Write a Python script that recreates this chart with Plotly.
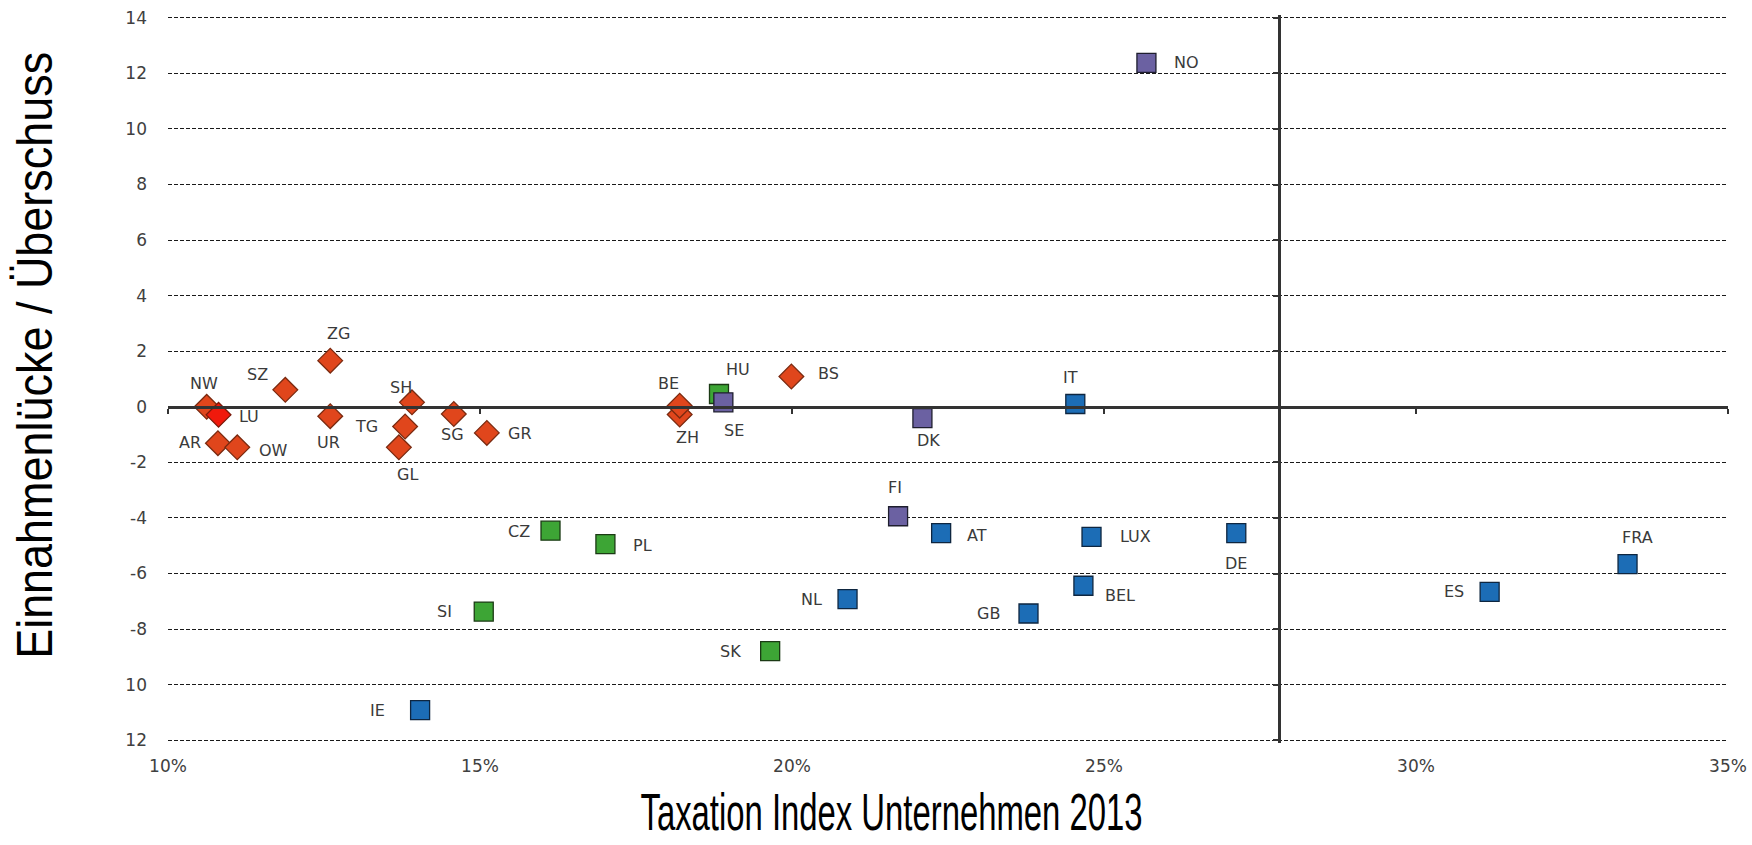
import plotly.graph_objects as go

# ---------------- data ----------------
# Swiss cantons (diamonds)
canton_names = ["NW", "SZ", "ZG", "UR", "AR", "OW", "SH", "TG", "GL", "SG", "GR", "ZH", "BE", "BS"]
canton_x = [10.62, 11.88, 12.60, 12.60, 10.80, 11.11, 13.91, 13.80, 13.70, 14.58, 15.11, 18.20, 18.20, 19.99]
canton_y = [0.00, 0.61, 1.66, -0.34, -1.31, -1.46, 0.16, -0.71, -1.46, -0.26, -0.94, -0.28, 0.04, 1.09]

# Highlighted canton
lu_names = ["LU"]
lu_x = [10.81]
lu_y = [-0.29]

# Eastern Europe (green squares)
east_names = ["HU", "CZ", "PL", "SI", "SK"]
east_x = [18.83, 16.13, 17.01, 15.06, 19.65]
east_y = [0.46, -4.46, -4.94, -7.37, -8.79]

# Nordic countries (purple squares)
nordic_names = ["NO", "SE", "DK", "FI"]
nordic_x = [25.68, 18.90, 22.09, 21.70]
nordic_y = [12.38, 0.16, -0.41, -3.94]

# Western Europe (blue squares)
west_names = ["IT", "AT", "LUX", "DE", "FRA", "ES", "BEL", "GB", "NL", "IE"]
west_x = [24.54, 22.39, 24.80, 27.12, 33.39, 31.18, 24.67, 23.79, 20.89, 14.04]
west_y = [0.10, -4.55, -4.68, -4.55, -5.66, -6.66, -6.44, -7.44, -6.92, -10.92]

# reference line (vertical) on the taxation index
ref_line_x = 27.8

x_tickvals = [10, 15, 20, 25, 30, 35]
x_ticktext = ["10%", "15%", "20%", "25%", "30%", "35%"]
y_tickvals = [-12, -10, -8, -6, -4, -2, 0, 2, 4, 6, 8, 10, 12, 14]
y_ticktext = ["12", "10", "-8", "-6", "-4", "-2", "0", "2", "4", "6", "8", "10", "12", "14"]

x_range = [10, 35]
y_range = [-12.1, 14.1]

x_title = "Taxation Index Unternehmen 2013"
y_title = "Einnahmenlücke / Überschuss"

# ---------------- label placement (pixel offsets: dx right, dy down) ----------------
label_offsets = {
    "NW": (-3, -23), "LU": (30, 2), "SZ": (-28, -15), "ZG": (8, -27), "UR": (-2, 26),
    "AR": (-28, -1), "OW": (36, 3), "SH": (-11, -15), "TG": (-39, 0), "GL": (9, 27),
    "SG": (-1, 20), "GR": (33, 1), "BE": (-11, -22), "ZH": (8, 23), "BS": (37, -3),
    "HU": (19, -25), "SE": (11, 28), "DK": (6, 22), "NO": (40, 0), "IT": (-5, -27),
    "FI": (-3, -29), "AT": (36, 2), "LUX": (44, 0), "DE": (0, 30), "FRA": (10, -27),
    "ES": (-36, 0), "BEL": (37, 10), "GB": (-40, 0), "NL": (-36, 0), "CZ": (-32, 1),
    "PL": (37, 1), "SI": (-39, 0), "SK": (-40, 0), "IE": (-43, 0),
}

# figure fills the whole page (body margin removed in post_script)
W, H = 1752, 845
PX_PER_UNIT = 27.77
PLOT_L, PLOT_R = 168, 1728                              # x = 10% / 35%
PLOT_T = round(18 - (y_range[1] - 14) * PX_PER_UNIT)    # so that 14 sits at y = 18
PLOT_B = round(740 + (-12 - y_range[0]) * PX_PER_UNIT)  # so that -12 sits at y = 740
ML, MT, MR, MB = PLOT_L, PLOT_T, W - PLOT_R, H - PLOT_B
plot_w = PLOT_R - PLOT_L
plot_h = PLOT_B - PLOT_T

fig = go.Figure()

def add_group(names, xs, ys, symbol, fill, border, size):
    fig.add_trace(go.Scatter(
        x=xs, y=ys, mode="markers", text=names,
        marker=dict(symbol=symbol, size=size, color=fill,
                    line=dict(color=border, width=1.3)),
        showlegend=False, hoverinfo="text+x+y", cliponaxis=False,
    ))

add_group(canton_names, canton_x, canton_y, "diamond", "#E0461C", "#7A2A10", 19)
add_group(lu_names, lu_x, lu_y, "diamond", "#F0190C", "#7A1A0A", 19)
add_group(east_names, east_x, east_y, "square", "#3DA535", "#1B3A14", 19)
add_group(nordic_names, nordic_x, nordic_y, "square", "#6B61A2", "#1E1E2E", 19)
add_group(west_names, west_x, west_y, "square", "#1C6DB6", "#0E2640", 19)

# dummy traces so that the overlay axes (zero line axis & reference line axis) are drawn
fig.add_trace(go.Scatter(x=[None], y=[None], xaxis="x2", yaxis="y", showlegend=False, hoverinfo="skip"))
fig.add_trace(go.Scatter(x=[None], y=[None], xaxis="x", yaxis="y2", showlegend=False, hoverinfo="skip"))

annotations = []
all_names = canton_names + lu_names + east_names + nordic_names + west_names
all_x = canton_x + lu_x + east_x + nordic_x + west_x
all_y = canton_y + lu_y + east_y + nordic_y + west_y
for n, xv, yv in zip(all_names, all_x, all_y):
    dx, dy = label_offsets.get(n, (30, 0))
    annotations.append(dict(
        x=xv, y=yv, xref="x", yref="y", text=n, showarrow=False,
        xshift=dx, yshift=-dy, xanchor="center", yanchor="middle",
        font=dict(family="DejaVu Sans", size=16, color="#3a3a3a"),
    ))

# axis titles (positions given in page pixels, converted to paper fractions)
annotations.append(dict(
    text=x_title, xref="paper", yref="paper",
    x=(891 - PLOT_L) / plot_w, y=(PLOT_B - 812) / plot_h,
    xanchor="center", yanchor="middle", showarrow=False,
    font=dict(family="Liberation Sans, Arial, sans-serif", size=52, color="#000000"),
))
annotations.append(dict(
    text=y_title, xref="paper", yref="paper",
    x=(35 - PLOT_L) / plot_w, y=(PLOT_B - 356) / plot_h,
    xanchor="center", yanchor="middle", showarrow=False, textangle=-90,
    font=dict(family="Liberation Sans, Arial, sans-serif", size=50, color="#000000"),
))

tick_font = dict(family="DejaVu Sans", size=17, color="#404040")

fig.update_layout(
    width=W, height=H,
    margin=dict(l=ML, r=MR, t=MT, b=MB, pad=0, autoexpand=False),
    paper_bgcolor="white", plot_bgcolor="white",
    showlegend=False,
    annotations=annotations,
    xaxis=dict(
        range=x_range, tickvals=x_tickvals, ticktext=x_ticktext,
        showgrid=False, zeroline=False, showline=False, ticks="",
        tickfont=tick_font, ticklabelstandoff=11, automargin=False,
        ticklabeloverflow="allow",
    ),
    yaxis=dict(
        range=y_range, tickvals=y_tickvals, ticktext=y_ticktext,
        showgrid=True, gridcolor="#1a1a1a", gridwidth=1.2, griddash="4px,2px",
        zeroline=False, showline=False, ticks="",
        tickfont=tick_font, ticklabelstandoff=20, automargin=False,
        ticklabeloverflow="allow",
    ),
    xaxis2=dict(
        overlaying="x", anchor="free",
        position=(0 - y_range[0]) / (y_range[1] - y_range[0]),
        range=x_range, tickvals=x_tickvals, ticks="outside", ticklen=5,
        tickwidth=2, tickcolor="#333333", showline=True, linecolor="#333333",
        linewidth=3, showticklabels=False, showgrid=False, zeroline=False,
        automargin=False,
    ),
    yaxis2=dict(
        overlaying="y", anchor="free", side="left",
        position=(ref_line_x - x_range[0]) / (x_range[1] - x_range[0]),
        range=y_range, tickvals=y_tickvals, ticks="outside", ticklen=5,
        tickwidth=2, tickcolor="#333333", showline=True, linecolor="#333333",
        linewidth=3, showticklabels=False, showgrid=False, zeroline=False,
        automargin=False,
    ),
)

post = """
document.body.style.margin = '0';
var gd = document.getElementById('{plot_id}');
function squeeze(){
  gd.querySelectorAll('text.annotation-text').forEach(function(t){
    var s = t.textContent || '';
    if (s.indexOf('Taxation') === 0) { t.setAttribute('textLength','502'); t.setAttribute('lengthAdjust','spacingAndGlyphs'); }
    if (s.indexOf('Einnahmen') === 0) { t.setAttribute('textLength','607'); t.setAttribute('lengthAdjust','spacingAndGlyphs'); }
  });
}
squeeze();
gd.on && gd.on('plotly_afterplot', squeeze);
"""

fig.write_html("out.html", post_script=post, config={"displayModeBar": False})
